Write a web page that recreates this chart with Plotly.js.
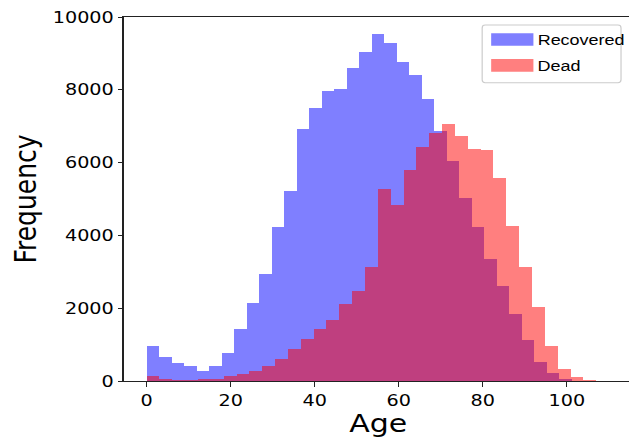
<!DOCTYPE html>
<html>
<head>
<meta charset="utf-8">
<script src="https://cdn.plot.ly/plotly-3.0.1.min.js"></script>
<style>
  html, body { margin: 0; padding: 0; overflow: hidden; background: #fff; width: 629px; height: 437px; }
  #plot { width: 527px; height: 437px; transform: scaleX(1.2); transform-origin: 0 0; }
</style>
</head>
<body>
<div id="plot"></div>
<script>
// ---- data (bin counts) ----
const seriesNames = ["Recovered", "Dead"];
const xTitle = "Age";
const yTitle = "Frequency";

const recoveredBinStart = 0;
const recoveredBinSize = 2.977;
const recoveredCounts = [960, 660, 495, 412, 275, 412, 770, 1430, 2140, 2940,
  4230, 5220, 6920, 7500, 7970, 8020, 8600, 9040, 9530, 9290,
  8760, 8400, 7750, 6870, 6040, 5030, 4230, 3350, 2610, 1840,
  1125, 520, 220, 55, 10];

const deadBinStart = 0;
const deadBinSize = 3.057;
const deadCounts = [137, 55, 30, 30, 50, 55, 137, 190, 275, 412,
  604, 880, 1150, 1430, 1675, 2115, 2470, 3130, 5270, 4835,
  5800, 6430, 6810, 7060, 6730, 6370, 6350, 5580, 4260, 3140,
  2030, 960, 330, 110, 30];

const xTickVals = [0, 20, 40, 60, 80, 100];
const yTickVals = [0, 2000, 4000, 6000, 8000, 10000];

// ---- build ----
function centers(start, size, n) {
  const c = [];
  for (let i = 0; i < n; i++) c.push(start + (i + 0.5) * size);
  return c;
}

const blue = 'rgba(0,0,255,0.5)';
const red = 'rgba(255,0,0,0.5)';

const traces = [
  {
    type: 'bar', name: seriesNames[0],
    x: centers(recoveredBinStart, recoveredBinSize, recoveredCounts.length),
    y: recoveredCounts, width: recoveredBinSize,
    marker: { color: blue, line: { width: 0 } },
    showlegend: false, hoverinfo: 'x+y'
  },
  {
    type: 'bar', name: seriesNames[1],
    x: centers(deadBinStart, deadBinSize, deadCounts.length),
    y: deadCounts, width: deadBinSize,
    marker: { color: red, line: { width: 0 } },
    showlegend: false, hoverinfo: 'x+y'
  }
];

// plot area (inner, before the 1.2 horizontal stretch): 102.5 .. 527 px
const plotL = 102.5, plotR = 527, innerPx = (v) => (v / 1.2 - plotL) / (plotR - plotL);
const yPaper = (py) => (381 - py) / 364;

// custom legend (matplotlib style, wide patches, rounded frame)
const lx0 = innerPx(482), lx1 = innerPx(621), ly0 = yPaper(82.7), ly1 = yPaper(25);
const rx = 0.006, ry = 0.0082;
const framePath = `M ${lx0 + rx},${ly0} L ${lx1 - rx},${ly0} Q ${lx1},${ly0} ${lx1},${ly0 + ry} ` +
  `L ${lx1},${ly1 - ry} Q ${lx1},${ly1} ${lx1 - rx},${ly1} L ${lx0 + rx},${ly1} ` +
  `Q ${lx0},${ly1} ${lx0},${ly1 - ry} L ${lx0},${ly0 + ry} Q ${lx0},${ly0} ${lx0 + rx},${ly0} Z`;

const shapes = [
  { type: 'path', xref: 'paper', yref: 'paper', path: framePath,
    fillcolor: 'rgba(255,255,255,0.8)', line: { color: '#cccccc', width: 1 } },
  { type: 'rect', xref: 'paper', yref: 'paper', x0: innerPx(491), x1: innerPx(533.3), y0: yPaper(45.7), y1: yPaper(33.3),
    fillcolor: blue, line: { width: 0 } },
  { type: 'rect', xref: 'paper', yref: 'paper', x0: innerPx(491), x1: innerPx(533.3), y0: yPaper(71.7), y1: yPaper(59),
    fillcolor: red, line: { width: 0 } }
];

const legendFont = { family: 'Liberation Sans, Arial, sans-serif', size: 15, color: '#000' };
const annotations = [
  { xref: 'paper', yref: 'paper', x: innerPx(535), y: yPaper(39.5), xanchor: 'left', yanchor: 'middle',
    text: seriesNames[0], showarrow: false, font: legendFont },
  { xref: 'paper', yref: 'paper', x: innerPx(535), y: yPaper(65.3), xanchor: 'left', yanchor: 'middle',
    text: seriesNames[1], showarrow: false, font: legendFont },
  { xref: 'paper', yref: 'paper', x: 0.5, y: yPaper(423.5), xanchor: 'center', yanchor: 'middle',
    text: xTitle, showarrow: false, font: { family: 'DejaVu Sans, sans-serif', size: 25, color: '#000' } }
];

const axisCommon = {
  showline: true, linecolor: '#222', linewidth: 1, mirror: true,
  ticks: 'outside', tickcolor: '#222', tickwidth: 1,
  showgrid: false, zeroline: false,
  tickfont: { family: 'DejaVu Sans, sans-serif', size: 16, color: '#000' }
};

const layout = {
  width: 527, height: 437,
  margin: { l: plotL, r: 0, t: 17, b: 56, pad: 0 },
  paper_bgcolor: '#fff', plot_bgcolor: '#fff',
  barmode: 'overlay', bargap: 0,
  xaxis: Object.assign({}, axisCommon, {
    range: [-5.47, 115.6], tickvals: xTickVals, ticklen: 5
  }),
  yaxis: Object.assign({}, axisCommon, {
    range: [0, 10000], tickvals: yTickVals, tickformat: 'd', ticklen: 4,
    title: { text: yTitle, font: { family: 'DejaVu Sans, sans-serif', size: 25, color: '#000' }, standoff: 6 }
  }),
  shapes: shapes,
  annotations: annotations
};

Plotly.newPlot('plot', traces, layout, { displayModeBar: false, staticPlot: true });
</script>
</body>
</html>
